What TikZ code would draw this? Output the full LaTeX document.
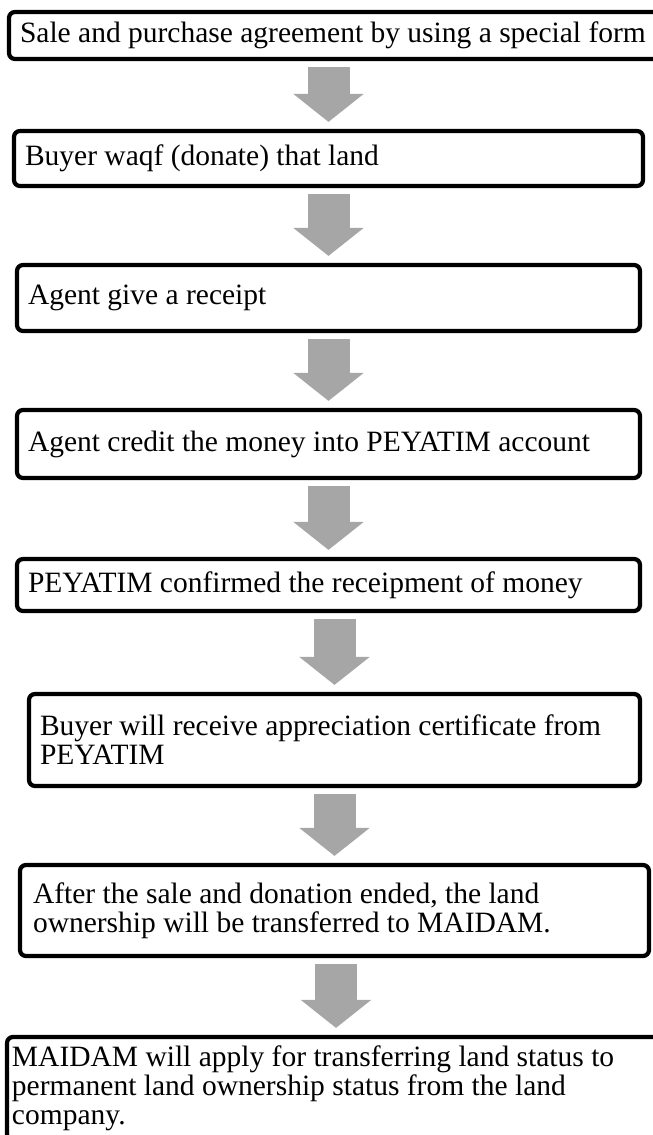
\documentclass[tikz,border=0pt]{standalone}
\usepackage{fontspec}
\setmainfont{Liberation Serif}
\usetikzlibrary{arrows.meta}
\definecolor{arrowgray}{RGB}{166,166,166}
\tikzset{
  stepbox/.style={draw,line width=4.2pt,rounded corners=6pt,align=flush left,inner ysep=0pt,inner xsep=11pt,font=\fontsize{29.5}{29}\selectfont},
  flow/.style={line width=42pt,draw=arrowgray,-{Triangle[length=28pt,width=69pt]},shorten <=6pt,shorten >=7pt}
}
\begin{document}
\begin{tikzpicture}[x=1pt,y=-1pt]
\useasboundingbox (0,0) rectangle (653,1135);
% steps, top to bottom
\node[stepbox,minimum height=47pt,text width=639pt] (b1) at (339.5,35.5) {Sale and purchase agreement by using a special form};
\node[stepbox,minimum height=55pt,text width=607pt] (b2) at (328.5,158.5) {Buyer waqf (donate) that land};
\node[stepbox,minimum height=66pt,text width=601pt] (b3) at (328.5,298) {Agent give a receipt};
\node[stepbox,minimum height=68pt,text width=601pt] (b4) at (328.5,444) {Agent credit the money into PEYATIM account};
\node[stepbox,minimum height=52pt,text width=601pt] (b5) at (328.5,585) {PEYATIM confirmed the receipment of money};
\node[stepbox,minimum height=92pt,text width=589pt] (b6) at (334.5,740) {Buyer will receive appreciation certificate from\\PEYATIM};
\node[stepbox,minimum height=91pt,text width=603pt,inner xsep=13pt] (b7) at (334.5,910.5) {After the sale and donation ended, the land\\ownership will be transferred to MAIDAM.};
\node[stepbox,minimum height=103pt,text width=648pt,inner xsep=5pt] (b8) at (336,1088.5) {MAIDAM will apply for transferring land status to\\permanent land ownership status from the land\\company.};
% grey block arrows
\foreach \a/\b in {b1/b2,b2/b3,b3/b4,b4/b5,b5/b6,b6/b7,b7/b8}
  \draw[flow] (\a.south -| \b.north) -- (\b.north);
\end{tikzpicture}
\end{document}
